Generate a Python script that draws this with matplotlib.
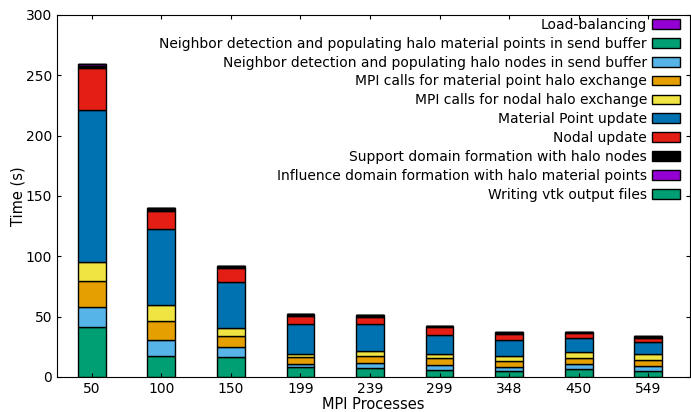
import matplotlib
matplotlib.use('Agg')
import matplotlib.pyplot as plt
from matplotlib.patches import Patch
import numpy as np

procs = ['50', '100', '150', '199', '239', '299', '348', '450', '549']

# stacked from the bottom up
nbr_points = [41.4, 17.7, 16.3, 8.0, 7.5, 5.8, 4.7, 6.4, 5.2]
nbr_nodes = [16.9, 13.0, 8.3, 3.0, 3.8, 4.1, 3.8, 4.1, 3.9]
mpi_points = [21.3, 16.0, 9.4, 5.6, 5.8, 5.6, 4.8, 5.5, 5.0]
mpi_nodes = [15.5, 12.7, 6.9, 2.5, 4.4, 3.6, 4.4, 4.5, 4.7]
point_update = [126.2, 63.0, 38.1, 24.6, 22.2, 15.5, 13.0, 12.1, 10.2]
nodal_update = [34.5, 15.4, 11.1, 6.9, 6.3, 6.6, 4.9, 4.1, 3.6]
support_dom = [1.9, 2.0, 1.6, 1.2, 1.2, 1.0, 1.2, 0.6, 0.9]
influence_dom = [1.4, 0.5, 0.5, 0.2, 0.2, 0.1, 0.2, 0.2, 0.2]
vtk_output = [0, 0, 0, 0, 0, 0, 0, 0, 0]
load_balance = [0, 0, 0, 0, 0, 0, 0, 0, 0]

green = '#009E73'
lblue = '#56B4E9'
orange = '#E69F00'
yellow = '#F0E442'
blue = '#0072B2'
red = '#E41E14'
purple = '#9400D3'

stack = [
    (nbr_points, green),
    (nbr_nodes, lblue),
    (mpi_points, orange),
    (mpi_nodes, yellow),
    (point_update, blue),
    (nodal_update, red),
    (support_dom, 'black'),
    (influence_dom, purple),
    (vtk_output, green),
    (load_balance, purple),
]

legend_entries = [
    ('Load-balancing', purple),
    ('Neighbor detection and populating halo material points in send buffer', green),
    ('Neighbor detection and populating halo nodes in send buffer', lblue),
    ('MPI calls for material point halo exchange', orange),
    ('MPI calls for nodal halo exchange', yellow),
    ('Material Point update', blue),
    ('Nodal update', red),
    ('Support domain formation with halo nodes', 'black'),
    ('Influence domain formation with halo material points', purple),
    ('Writing vtk output files', green),
]

fig = plt.figure(figsize=(6.91, 4.12), dpi=100)
ax = fig.add_axes([0.0825, 0.085, 0.9160, 0.8786])

x = np.arange(len(procs))
bottom = np.zeros(len(procs))
for vals, col in stack:
    vals = np.array(vals, dtype=float)
    ax.bar(x, vals, 0.4, bottom=bottom, color=col, edgecolor='black', linewidth=1)
    bottom += vals

ax.set_xlim(-0.5, 8.6)
ax.set_ylim(0, 300)
ax.set_xticks(x)
ax.set_xticklabels(procs)
ax.set_yticks(range(0, 301, 50))
ax.tick_params(direction='in', top=True, right=True, labelsize=10, length=3)
ax.set_xlabel('MPI Processes', fontsize=10.5, labelpad=1)
ax.set_ylabel('Time (s)', fontsize=10.5)
ax.yaxis.set_label_coords(-0.05, 0.5)

handles = [Patch(facecolor=c, edgecolor='black', linewidth=1) for _, c in legend_entries]
labels = [l for l, _ in legend_entries]
leg = ax.legend(handles, labels, loc='upper right', bbox_to_anchor=(1, 1.019),
                frameon=False, markerfirst=False,
                fontsize=10, labelspacing=0.35, handlelength=2.0, handleheight=0.7,
                borderaxespad=0.3, handletextpad=0.4)
leg._legend_box.align = 'right'

fig.savefig('out.png', dpi=100)
